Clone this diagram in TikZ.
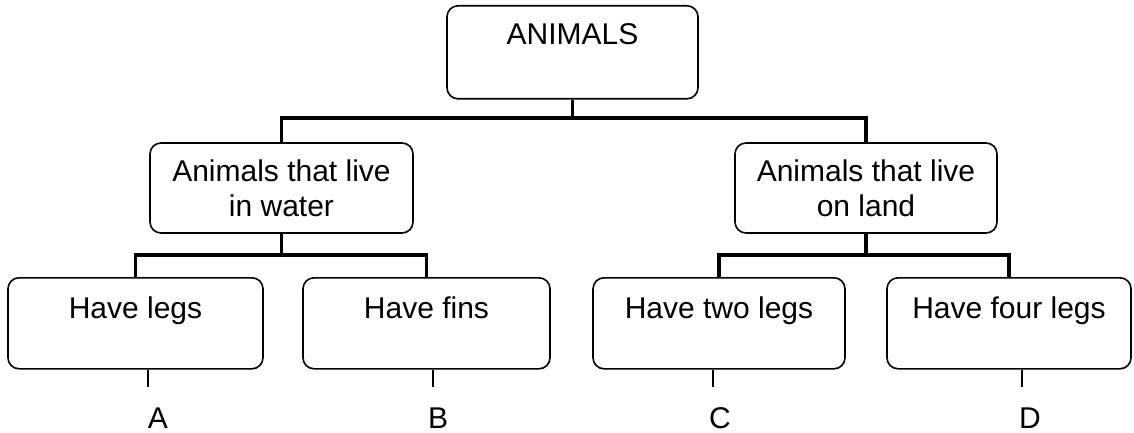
\documentclass[tikz,border=0pt]{standalone}
\usepackage{fontspec}
\setmainfont{Liberation Sans}

\tikzset{
  box/.style={draw,line width=1.6pt,rounded corners=11pt,inner sep=0pt},
  conn/.style={line width=3.2pt},
  tick/.style={line width=1.6pt}
}

\begin{document}
\begin{tikzpicture}[x=1pt,y=-1pt,font=\fontsize{30}{35}\selectfont]
\useasboundingbox (0,0) rectangle (1134,433);

\begin{scope}
\coordinate (busa) at (0,118);
\coordinate (busb) at (0,255);

\node[box,anchor=north,minimum width=251pt,text height=39pt,text depth=54pt] (animals) at (572.5,5) {ANIMALS};

\node[box,minimum width=263pt,minimum height=90pt,align=center] (water) at (281.5,188) {Animals that live\\in water};
\node[box,minimum width=262pt,minimum height=90pt,align=center] (land) at (866,188) {Animals that live\\on land};

\node[box,anchor=north,minimum width=255pt,text height=41pt,text depth=50pt] (legs) at (135.5,277) {Have legs};
\node[box,anchor=north,minimum width=247pt,text height=41pt,text depth=50pt] (fins) at (426.5,277) {Have fins};
\node[box,anchor=north,minimum width=252pt,text height=41pt,text depth=50pt] (twolegs) at (719,277) {Have two legs};
\node[box,anchor=north,minimum width=244pt,text height=41pt,text depth=50pt] (fourlegs) at (1009,277) {Have four legs};

\draw[conn] (animals.south) -- (animals.south |- busa) -| (water.north);
\draw[conn] (animals.south) -- (animals.south |- busa) -| (land.north);
\draw[conn] (water.south) -- (water.south |- busb) -| (legs.north);
\draw[conn] (water.south) -- (water.south |- busb) -| (fins.north);
\draw[conn] (land.south) -- (land.south |- busb) -| (twolegs.north);
\draw[conn] (land.south) -- (land.south |- busb) -| (fourlegs.north);

\coordinate (ta) at (148,387);
\coordinate (tb) at (433,387);
\coordinate (tc) at (713,387);
\coordinate (td) at (1022,387);

\draw[tick] (legs.south -| ta) -- (ta);
\draw[tick] (fins.south -| tb) -- (tb);
\draw[tick] (twolegs.south -| tc) -- (tc);
\draw[tick] (fourlegs.south -| td) -- (td);

\node (la) at (158,418) {A};
\node (lb) at (438,418) {B};
\node (lc) at (720,418) {C};
\node (ld) at (1030,418) {D};
\end{scope}

\end{tikzpicture}
\end{document}
